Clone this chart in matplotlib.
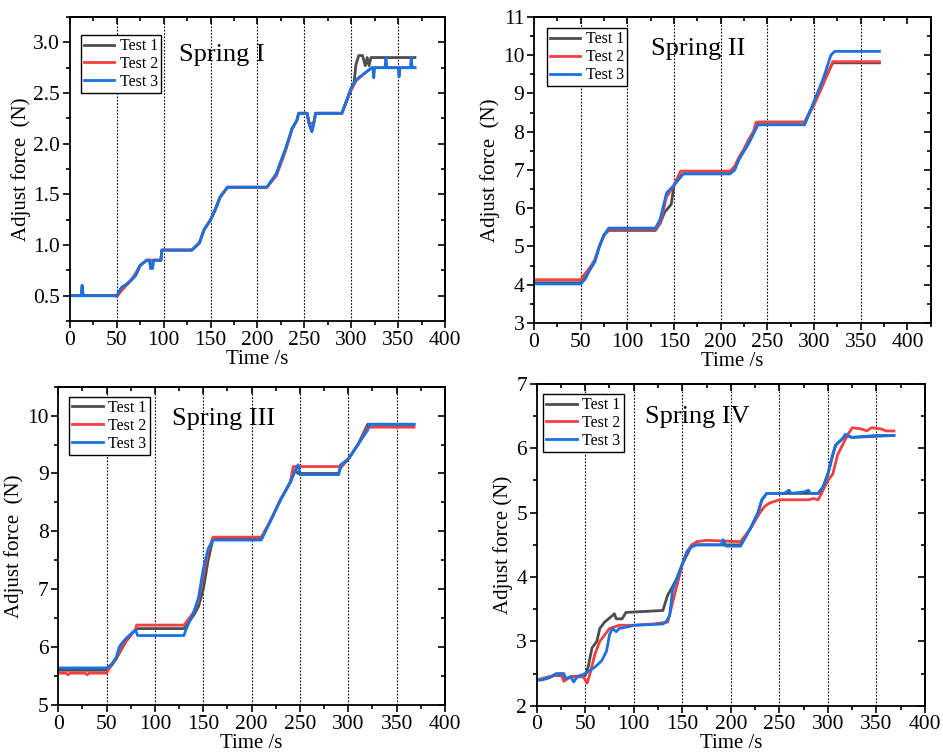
import matplotlib
matplotlib.use("Agg")
import matplotlib.pyplot as plt
from matplotlib.ticker import MultipleLocator, AutoMinorLocator

plt.rcParams["font.family"] = ["Liberation Serif", "DejaVu Serif"]
plt.rcParams["mathtext.fontset"] = "stix"

# ---- Spring I ----
s1_t1_x = [0, 12, 13, 14, 15, 49, 50, 55, 60, 65, 70, 75, 82, 85, 86, 88, 89, 97, 98, 130, 138, 143, 150, 155, 160, 168,
           210, 220, 230, 237, 242, 244, 253, 255, 258, 260, 262, 290, 300, 303, 305, 308, 312, 315, 317, 319, 321, 368]
s1_t1_y = [0.5, 0.5, 0.6, 0.5, 0.5, 0.5, 0.5, 0.58, 0.61, 0.65, 0.7, 0.8, 0.85, 0.85, 0.77, 0.77, 0.85, 0.85, 0.95, 0.95,
           1.02, 1.15, 1.25, 1.35, 1.47, 1.57, 1.57, 1.7, 1.95, 2.15, 2.23, 2.3, 2.3, 2.2, 2.12, 2.2, 2.3, 2.3, 2.55, 2.6,
           2.78, 2.87, 2.87, 2.77, 2.85, 2.77, 2.85, 2.85]
s1_t2_x = [0, 49, 50, 55, 60, 65, 70, 75, 82, 89, 97, 98, 130, 138, 143, 150, 155, 160, 168, 210, 220, 230, 237, 242, 244,
           253, 255, 260, 262, 290, 300, 305, 315, 322, 368]
s1_t2_y = [0.5, 0.5, 0.49, 0.55, 0.6, 0.65, 0.72, 0.8, 0.85, 0.85, 0.85, 0.95, 0.95, 1.02, 1.15, 1.25, 1.35, 1.47, 1.57,
           1.57, 1.68, 1.93, 2.15, 2.23, 2.3, 2.3, 2.2, 2.2, 2.3, 2.3, 2.53, 2.62, 2.7, 2.75, 2.75]
s1_t3_x = [0, 12, 13, 14, 15, 49, 50, 55, 60, 65, 70, 75, 82, 85, 86, 88, 89, 97, 98, 130, 138, 143, 150, 155, 160, 168,
           210, 220, 230, 237, 242, 244, 253, 255, 258, 260, 262, 290, 300, 305, 315, 322, 323, 324, 325, 336, 337, 338,
           350, 351, 352, 363, 364, 365, 368]
s1_t3_y = [0.5, 0.5, 0.6, 0.5, 0.5, 0.5, 0.5, 0.58, 0.61, 0.65, 0.7, 0.8, 0.85, 0.85, 0.77, 0.77, 0.85, 0.85, 0.95, 0.95,
           1.02, 1.15, 1.25, 1.35, 1.47, 1.57, 1.57, 1.7, 1.95, 2.15, 2.23, 2.3, 2.3, 2.2, 2.12, 2.2, 2.3, 2.3, 2.55, 2.63,
           2.7, 2.75, 2.75, 2.65, 2.75, 2.75, 2.85, 2.75, 2.75, 2.66, 2.75, 2.75, 2.85, 2.75, 2.75]

# ---- Spring II ----
s2_t1_x = [0, 50, 55, 60, 65, 70, 75, 80, 130, 135, 140, 147, 150, 155, 160, 210, 215, 220, 225, 230, 235, 240, 290, 300,
           310, 320, 370]
s2_t1_y = [4.05, 4.05, 4.2, 4.4, 4.6, 5.0, 5.3, 5.42, 5.42, 5.6, 5.9, 6.1, 6.6, 6.8, 6.9, 6.9, 7.05, 7.3, 7.5, 7.7, 7.95,
           8.25, 8.25, 8.75, 9.3, 9.8, 9.8]
s2_t2_x = [0, 50, 55, 60, 65, 70, 75, 80, 130, 135, 142, 150, 157, 210, 215, 220, 225, 230, 235, 238, 290, 300, 310, 320,
           370]
s2_t2_y = [4.13, 4.13, 4.3, 4.45, 4.65, 5.0, 5.3, 5.45, 5.45, 5.6, 6.3, 6.6, 6.97, 6.97, 7.1, 7.35, 7.55, 7.8, 8.0, 8.25,
           8.25, 8.7, 9.25, 9.83, 9.83]
s2_t3_x = [0, 50, 55, 60, 65, 70, 75, 80, 130, 135, 142, 150, 160, 210, 215, 220, 225, 230, 235, 240, 290, 300, 310, 318,
           322, 370]
s2_t3_y = [4.02, 4.02, 4.15, 4.4, 4.6, 5.0, 5.3, 5.48, 5.48, 5.7, 6.4, 6.6, 6.9, 6.9, 7.0, 7.3, 7.5, 7.7, 7.95, 8.18,
           8.18, 8.8, 9.4, 10.0, 10.1, 10.1]

# ---- Spring III ----
s3_t1_x = [0, 50, 55, 60, 65, 70, 78, 80, 82, 130, 140, 145, 150, 155, 160, 210, 220, 230, 240, 245, 248, 290, 292, 300,
           310, 320, 368]
s3_t1_y = [5.6, 5.6, 5.68, 5.8, 5.95, 6.1, 6.27, 6.3, 6.32, 6.32, 6.55, 6.7, 7.0, 7.5, 7.87, 7.87, 8.2, 8.55, 8.85, 9.05,
           9.0, 9.0, 9.1, 9.25, 9.5, 9.85, 9.85]
s3_t2_x = [0, 8, 10, 12, 28, 30, 32, 50, 55, 60, 65, 70, 78, 80, 81, 130, 140, 145, 150, 155, 160, 210, 220, 230, 240,
           243, 290, 292, 300, 310, 320, 368]
s3_t2_y = [5.55, 5.55, 5.52, 5.55, 5.55, 5.52, 5.55, 5.55, 5.7, 5.8, 5.98, 6.1, 6.27, 6.3, 6.38, 6.38, 6.6, 6.8, 7.25,
           7.65, 7.9, 7.9, 8.2, 8.55, 8.85, 9.12, 9.12, 9.12, 9.25, 9.5, 9.8, 9.8]
s3_t3_x = [0, 50, 55, 60, 63, 65, 70, 78, 80, 82, 130, 132, 140, 145, 150, 155, 160, 210, 220, 230, 240, 245, 248, 250,
           290, 292, 300, 310, 320, 322, 368]
s3_t3_y = [5.64, 5.64, 5.7, 5.82, 6.0, 6.05, 6.15, 6.27, 6.3, 6.2, 6.2, 6.3, 6.6, 6.85, 7.35, 7.7, 7.85, 7.85, 8.2, 8.55,
           8.85, 9.05, 9.15, 8.98, 8.98, 9.15, 9.25, 9.5, 9.75, 9.85, 9.85]

# ---- Spring IV ----
s4_t1_x = [0, 10, 18, 27, 28, 35, 50, 53, 57, 62, 65, 70, 78, 80, 82, 88, 92, 130, 135, 140, 145, 150, 155, 160, 200, 210,
           220, 228, 232, 237, 255, 290, 295, 300, 305, 308, 315, 318, 325, 368]
s4_t1_y = [2.4, 2.42, 2.47, 2.47, 2.4, 2.45, 2.47, 2.6, 2.9, 3.0, 3.2, 3.3, 3.4, 3.43, 3.35, 3.35, 3.45, 3.48, 3.72, 3.85,
           4.0, 4.2, 4.35, 4.5, 4.5, 4.5, 4.75, 5.0, 5.2, 5.3, 5.3, 5.3, 5.4, 5.6, 5.9, 6.05, 6.15, 6.2, 6.17, 6.2]
s4_t2_x = [0, 20, 25, 28, 35, 48, 52, 55, 60, 65, 70, 75, 85, 100, 120, 135, 140, 145, 150, 155, 160, 165, 175, 210, 220,
           230, 235, 240, 250, 280, 285, 290, 300, 305, 310, 315, 320, 325, 335, 340, 345, 355, 360, 368]
s4_t2_y = [2.4, 2.48, 2.5, 2.38, 2.45, 2.45, 2.35, 2.5, 2.8, 3.0, 3.1, 3.2, 3.25, 3.25, 3.27, 3.3, 3.6, 3.9, 4.2, 4.4,
           4.5, 4.55, 4.57, 4.55, 4.75, 5.0, 5.1, 5.15, 5.2, 5.2, 5.22, 5.2, 5.5, 5.6, 5.9, 6.05, 6.2, 6.32, 6.3, 6.27,
           6.32, 6.3, 6.27, 6.27]
s4_t3_x = [0, 5, 15, 20, 28, 30, 35, 38, 42, 50, 60, 67, 72, 75, 78, 82, 85, 95, 100, 130, 133, 137, 140, 145, 150, 155,
           160, 165, 190, 192, 195, 210, 220, 228, 232, 237, 255, 260, 262, 275, 280, 282, 290, 295, 300, 305, 308, 315,
           318, 320, 325, 350, 368]
s4_t3_y = [2.4, 2.4, 2.45, 2.5, 2.5, 2.42, 2.45, 2.37, 2.45, 2.5, 2.6, 2.7, 2.85, 3.1, 3.2, 3.15, 3.2, 3.23, 3.25, 3.27,
           3.3, 3.4, 3.8, 4.0, 4.2, 4.4, 4.47, 4.5, 4.5, 4.58, 4.48, 4.48, 4.75, 5.0, 5.2, 5.3, 5.3, 5.35, 5.3, 5.32, 5.35,
           5.3, 5.3, 5.4, 5.6, 5.9, 6.05, 6.15, 6.22, 6.2, 6.17, 6.2, 6.2]

labels = ["Test 1", "Test 2", "Test 3"]
colors = ["#4d4d4d", "#f23f3f", "#1a72e0"]

panels = [
    dict(rect=[0.0742, 0.5754, 0.3977, 0.4021], xlim=(0, 400), ylim=(0.25, 3.25), ymajor=0.5, yfmt="{:.1f}",
         title="Spring I", tpos=(0.29, 0.875), lpos=(0.029, 0.941), ylabel="Adjust force  (N)",
         data=[(s1_t1_x, s1_t1_y), (s1_t2_x, s1_t2_y), (s1_t3_x, s1_t3_y)]),
    dict(rect=[0.5663, 0.5728, 0.4207, 0.4048], xlim=(0, 425), ylim=(3, 11), ymajor=1, yfmt="{:.0f}",
         title="Spring II", tpos=(0.295, 0.895), lpos=(0.032, 0.963), ylabel="Adjust force  (N)",
         data=[(s2_t1_x, s2_t1_y), (s2_t2_x, s2_t2_y), (s2_t3_x, s2_t3_y)]),
    dict(rect=[0.0618, 0.0675, 0.4101, 0.4210], xlim=(0, 400), ylim=(5, 10.5), ymajor=1, yfmt="{:.0f}",
         title="Spring III", tpos=(0.294, 0.90), lpos=(0.028, 0.969), ylabel="Adjust force  (N)",
         data=[(s3_t1_x, s3_t1_y), (s3_t2_x, s3_t2_y), (s3_t3_x, s3_t3_y)]),
    dict(rect=[0.5691, 0.0665, 0.4118, 0.4256], xlim=(0, 400), ylim=(2, 7), ymajor=1, yfmt="{:.0f}",
         title="Spring IV", tpos=(0.28, 0.897), lpos=(0.017, 0.969), ylabel="Adjust force (N)",
         data=[(s4_t1_x, s4_t1_y), (s4_t2_x, s4_t2_y), (s4_t3_x, s4_t3_y)]),
]

fig = plt.figure(figsize=(9.43, 7.56), dpi=100)

for p in panels:
    ax = fig.add_axes(p["rect"])
    for (x, y), lab, c in zip(p["data"], labels, colors):
        ax.plot(x, y, color=c, lw=2.0, label=lab)
    for gx in range(50, 400, 50):
        ax.axvline(gx, color="black", lw=0.8, ls=(0, (1.5, 1.5)), zorder=0)

    ax.set_xlim(*p["xlim"])
    ax.set_ylim(*p["ylim"])
    ax.xaxis.set_major_locator(MultipleLocator(50))
    ax.xaxis.set_minor_locator(AutoMinorLocator(2))
    ax.yaxis.set_major_locator(MultipleLocator(p["ymajor"]))
    ax.yaxis.set_minor_locator(AutoMinorLocator(2))
    ax.set_yticks(ax.get_yticks())
    ax.set_yticklabels([p["yfmt"].format(v) for v in ax.get_yticks()])
    ax.set_ylim(*p["ylim"])
    ax.tick_params(which="both", direction="out", labelsize=15.5, width=1.2, pad=2)
    ax.tick_params(which="major", length=5)
    ax.tick_params(which="minor", length=3)
    for lbl in ax.get_xticklabels() + ax.get_yticklabels():
        lbl.set_fontfamily("Liberation Serif")

    # inward ticks on top and right, Origin style
    top = ax.secondary_xaxis("top")
    top.xaxis.set_major_locator(MultipleLocator(50))
    top.xaxis.set_minor_locator(AutoMinorLocator(2))
    top.tick_params(which="both", direction="in", labeltop=False, width=1.2)
    top.tick_params(which="major", length=5)
    top.tick_params(which="minor", length=3)
    right = ax.secondary_yaxis("right")
    right.yaxis.set_major_locator(MultipleLocator(p["ymajor"]))
    right.yaxis.set_minor_locator(AutoMinorLocator(2))
    right.tick_params(which="both", direction="in", labelright=False, width=1.2)
    right.tick_params(which="major", length=5)
    right.tick_params(which="minor", length=3)
    for s in list(ax.spines.values()) + [top.spines["top"], right.spines["right"]]:
        s.set_linewidth(1.3)

    ax.set_xlabel("Time /s", fontsize=15, labelpad=0)
    ax.set_ylabel(p["ylabel"], fontsize=15, labelpad=2)
    ax.text(p["tpos"][0], p["tpos"][1], p["title"], transform=ax.transAxes, fontsize=19,
            ha="left", va="center")
    leg = ax.legend(loc="upper left", bbox_to_anchor=p["lpos"], borderaxespad=0, fontsize=11.5,
                    frameon=True, fancybox=False, framealpha=1, handlelength=1.9,
                    borderpad=0.2, labelspacing=0.12, handletextpad=0.35)
    leg.get_frame().set_edgecolor("black")
    leg.get_frame().set_linewidth(1.0)

fig.savefig("out.png", dpi=100)
